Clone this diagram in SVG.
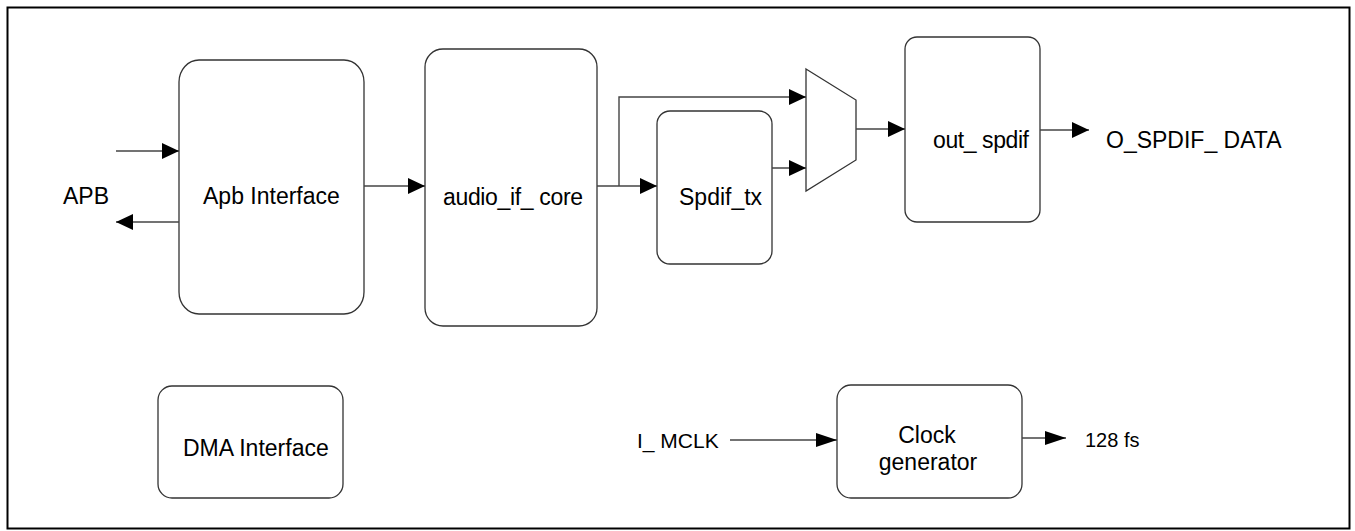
<svg xmlns="http://www.w3.org/2000/svg" width="1355" height="531" viewBox="0 0 1355 531">
<style>
.node{fill:#fff;stroke:#333;stroke-width:1.3}
.lbl{font-family:"Liberation Sans",Arial,sans-serif;font-size:23px;fill:#000}
.wire{fill:none;stroke:#444;stroke-width:1.4}
.big{marker-end:url(#ah)}
.long{marker-end:url(#ah2)}
</style>
<defs>
<marker id="ah" viewBox="0 0 17 16" refX="17" refY="8" markerWidth="17" markerHeight="16" markerUnits="userSpaceOnUse" orient="auto">
<path d="M0,0 L17,8 L0,16 Z" fill="#000"/>
</marker>
<marker id="ah2" viewBox="0 0 21 14" refX="21" refY="7" markerWidth="21" markerHeight="14" markerUnits="userSpaceOnUse" orient="auto">
<path d="M0,0 L21,7 L0,14 Z" fill="#000"/>
</marker>
</defs>
<rect x="0" y="0" width="1355" height="531" fill="#fff"/>
<rect x="7.5" y="7.5" width="1342" height="521" fill="none" stroke="#000" stroke-width="2"/>

<g id="apb-label"><text class="lbl" x="63" y="204">APB</text></g>

<g id="apb-interface">
<rect class="node" x="179" y="60" width="185" height="254" rx="20" ry="22"/>
<text class="lbl" x="203" y="204">Apb Interface</text>
</g>

<g id="audio-if-core">
<rect class="node" x="425" y="49" width="172" height="277" rx="18" ry="18"/>
<text class="lbl" x="443" y="205" textLength="140" lengthAdjust="spacing">audio_if_ core</text>
</g>

<g id="spdif-tx">
<rect class="node" x="657" y="111" width="115" height="153" rx="13" ry="13"/>
<text class="lbl" x="679" y="205">Spdif_tx</text>
</g>

<g id="mux">
<polygon class="node" points="806,69 856,100 856,160 806,191"/>
</g>

<g id="out-spdif">
<rect class="node" x="905" y="37" width="135" height="185" rx="12" ry="12"/>
<text class="lbl" x="933" y="148" textLength="96" lengthAdjust="spacing">out_ spdif</text>
</g>

<g id="o-spdif-data"><text class="lbl" x="1106" y="148">O_SPDIF_ DATA</text></g>

<g id="dma-interface">
<rect class="node" x="158" y="386" width="185" height="112" rx="14" ry="14"/>
<text class="lbl" x="183" y="456">DMA Interface</text>
</g>

<g id="i-mclk"><text class="lbl" x="637" y="448" style="font-size:21px">I_ MCLK</text></g>

<g id="clock-generator">
<rect class="node" x="837" y="385" width="185" height="113" rx="14" ry="14"/>
<text class="lbl" x="927" y="443" text-anchor="middle">Clock</text>
<text class="lbl" x="928" y="470" text-anchor="middle">generator</text>
</g>

<g id="fs-128"><text class="lbl" x="1085" y="447" style="font-size:20px">128 fs</text></g>

<g id="connectors">
<path class="wire big" d="M116,151 H179"/>
<path class="wire big" d="M179,222 H116"/>
<path class="wire big" d="M364,186 H425"/>
<path class="wire big" d="M597,186 H657"/>
<path class="wire big" d="M619,186 V97 H806"/>
<path class="wire big" d="M772,168 H806"/>
<path class="wire big" d="M856,129 H905"/>
<path class="wire big" d="M1040,130 H1089"/>
<path class="wire long" d="M730,440 H837"/>
<path class="wire long" d="M1022,438 H1066"/>
</g>
</svg>
